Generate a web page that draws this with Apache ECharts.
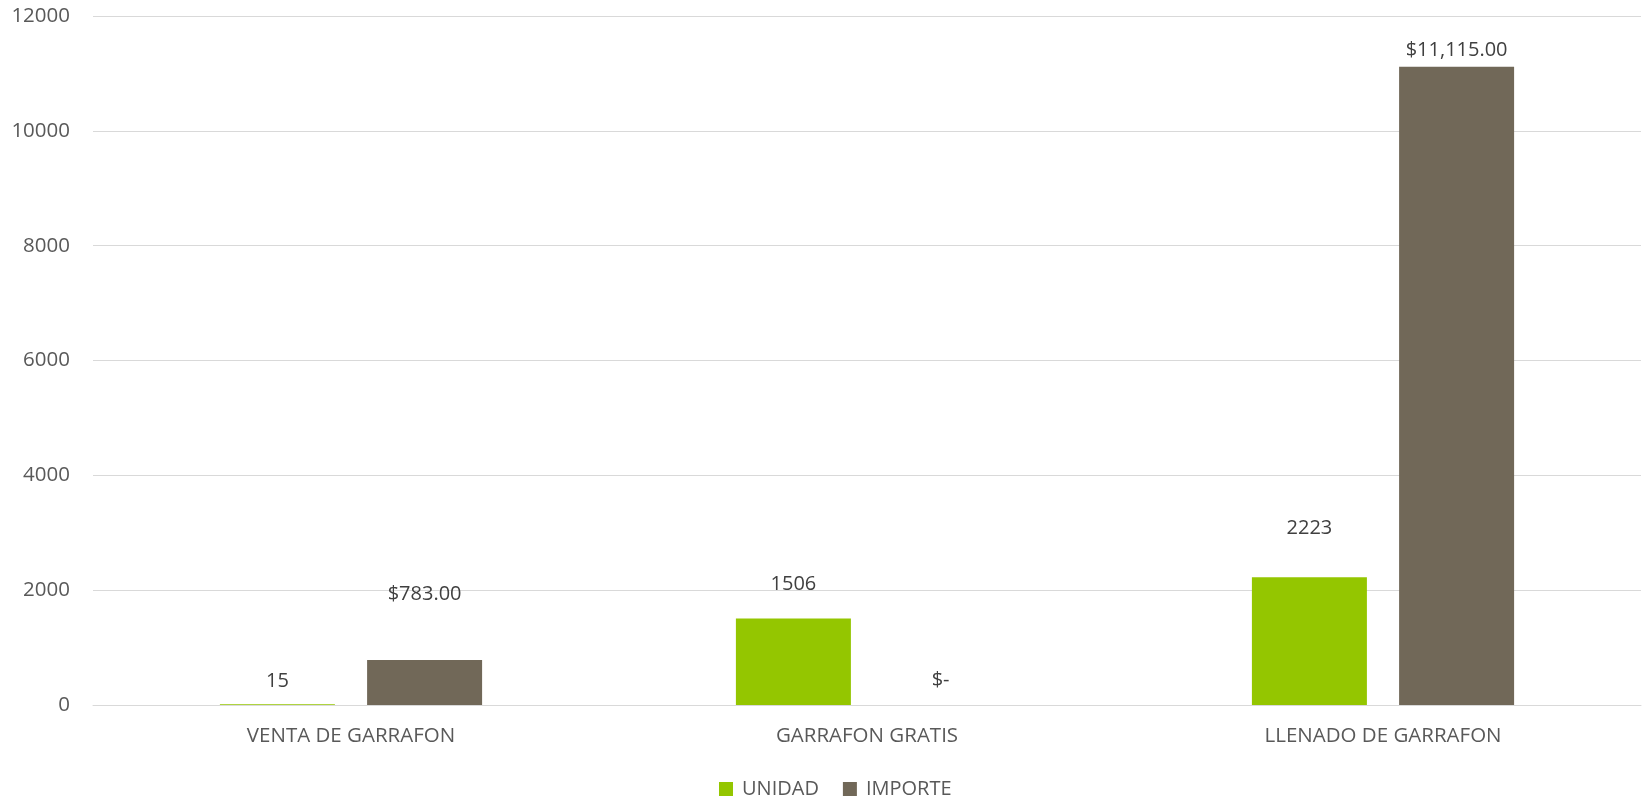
<!DOCTYPE html>
<html><head><meta charset="utf-8">
<script src="https://cdn.jsdelivr.net/npm/echarts@6/dist/echarts.min.js"></script>
<style>html,body{margin:0;padding:0;background:#fff}#c{width:1644px;height:801px}</style>
</head><body><div id="c"></div>
<script>
const categories = ["VENTA DE GARRAFON", "GARRAFON GRATIS", "LLENADO DE GARRAFON"];
const unidad = [15, 1506, 2223];
const importe = [783, 0, 11115];
const yTicks = [0, 2000, 4000, 6000, 8000, 10000, 12000];
// label gaps above bars (style, not data)
const unidadLabelGap = [13, 24, 39];
const importeLabelGap = [56, 15, 7];

const FONT = "Open Sans";
const fmtMoney = v => v === 0 ? "$-" : "$" + v.toLocaleString("en-US", {minimumFractionDigits: 2, maximumFractionDigits: 2});

const chart = echarts.init(document.getElementById('c'));
chart.setOption({
  animation: false,
  textStyle: {fontFamily: FONT},
  grid: {left: 93, right: 3, top: 16, bottom: 96, containLabel: false},
  legend: {
    top: 778, left: 719, padding: 0,
    itemWidth: 14, itemHeight: 14, itemGap: 24, icon: 'rect',
    textStyle: {fontFamily: FONT, fontSize: 20, lineHeight: 22, color: '#595959', padding: [0,0,0,4]},
    data: ['UNIDAD', 'IMPORTE']
  },
  xAxis: {
    type: 'category', data: categories,
    axisLine: {show: true, lineStyle: {color: '#D9D9D9', width: 1}},
    axisTick: {show: false},
    axisLabel: {fontFamily: FONT, fontSize: 20.5, color: '#595959', margin: 21}
  },
  yAxis: {
    type: 'value', min: yTicks[0], max: yTicks[yTicks.length - 1], interval: yTicks[1] - yTicks[0],
    axisLine: {show: false}, axisTick: {show: false},
    splitLine: {lineStyle: {color: '#D9D9D9', width: 1}},
    axisLabel: {fontFamily: FONT, fontSize: 20.5, color: '#595959', margin: 23, formatter: v => String(v)}
  },
  series: [
    {
      name: 'UNIDAD', type: 'bar', barWidth: 115, barGap: '28%',
      itemStyle: {color: '#94C600'},
      data: unidad.map((v, i) => ({value: v, label: {distance: unidadLabelGap[i]}})),
      label: {show: true, position: 'top', fontFamily: FONT, fontSize: 20, lineHeight: 20, color: '#404040'}
    },
    {
      name: 'IMPORTE', type: 'bar', barWidth: 115,
      itemStyle: {color: '#716858'},
      data: importe.map((v, i) => ({value: v, label: {distance: importeLabelGap[i]}})),
      label: {show: true, position: 'top', fontFamily: FONT, fontSize: 20, lineHeight: 20, color: '#404040',
        formatter: p => fmtMoney(p.value)}
    }
  ]
});
</script></body></html>
